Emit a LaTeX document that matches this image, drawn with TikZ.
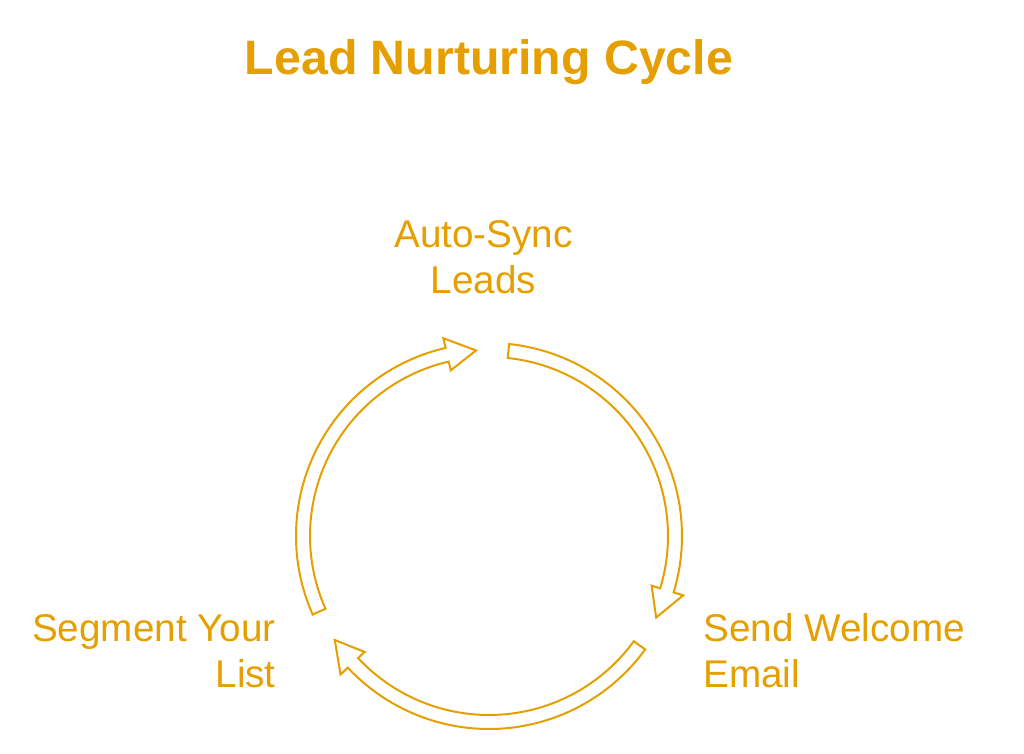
\documentclass[tikz,border=0pt]{standalone}
\usepackage{fontspec}
\setmainfont{Liberation Sans}
\usetikzlibrary{positioning}
\definecolor{leadgold}{HTML}{E69F00}

\begin{document}
\begin{tikzpicture}[x=0.75pt, y=0.75pt,
    label/.style={text=leadgold, inner sep=0pt, font=\fontsize{29}{34.5}\selectfont},
    cyclearrow/.style={draw=leadgold, line width=1.5pt, line join=miter}]
  \useasboundingbox (0,0) rectangle (1024,753);
  \node[text=leadgold, inner sep=0pt, anchor=base, font=\bfseries\fontsize{36.2}{43}\selectfont] (title) at (489,678) {Lead Nurturing Cycle};

  \coordinate (c) at (489,217);
  \node[label, anchor=base, align=center] (sync) at (483.5,459) {Auto-Sync\\Leads};
  \node[label, anchor=base west, align=left] (welcome) at (703,65) {Send Welcome\\Email};
  \node[label, anchor=base east, align=right] (segment) at (276,65) {Segment Your\\List};

  % three curved arrows round the centre
  \draw[cyclearrow, shift={(c)}] (204:193) arc[start angle=204, end angle=103, radius=193] -- (103:203) -- (94:186) -- (103:170) -- (103:179) arc[start angle=103, end angle=204, radius=179] -- cycle;
  \draw[cyclearrow, shift={(c)}] (84:193) arc[start angle=84, end angle=-17, radius=193] -- (-17:203) -- (-26:186) -- (-17:170) -- (-17:179) arc[start angle=-17, end angle=84, radius=179] -- cycle;
  \draw[cyclearrow, shift={(c)}] (-36:193) arc[start angle=-36, end angle=-137, radius=193] -- (-137:203) -- (-146:186) -- (-137:170) -- (-137:179) arc[start angle=-137, end angle=-36, radius=179] -- cycle;
\end{tikzpicture}
\end{document}
